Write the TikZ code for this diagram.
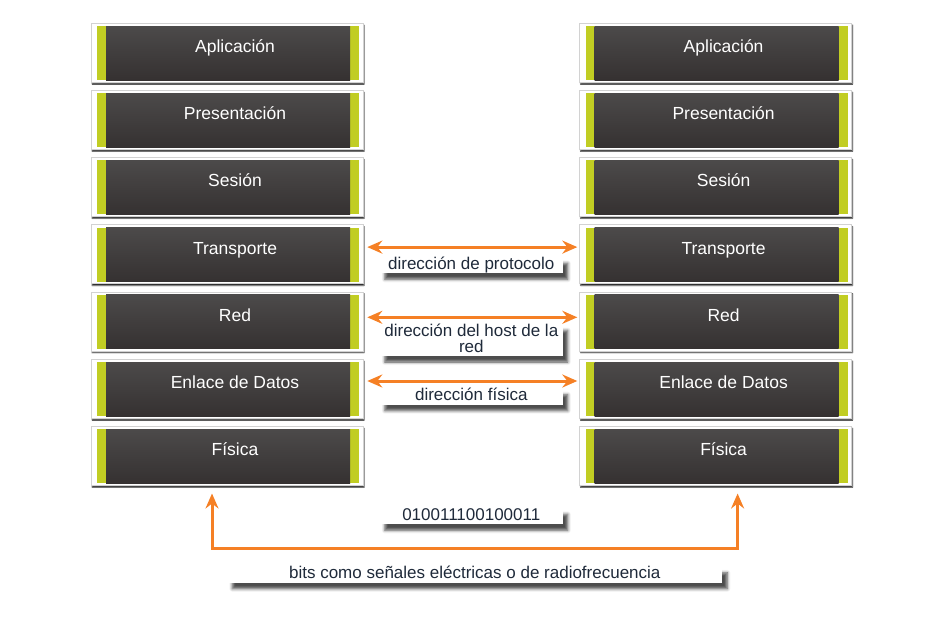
\documentclass[tikz,border=0pt]{standalone}
\usepackage{fontspec}
\setmainfont{Liberation Sans}
\usetikzlibrary{positioning,arrows.meta,shadows.blur,calc,backgrounds}
\definecolor{layergreen}{HTML}{C1CD23}
\definecolor{layertop}{HTML}{4C4A4A}
\definecolor{layerbot}{HTML}{353131}
\definecolor{bandgreen}{HTML}{CDD468}
\definecolor{linkorange}{HTML}{F58025}
\definecolor{labelink}{HTML}{1F2A3A}
\tikzset{
  layer/.style={fill=white, draw=gray!35, line width=0.6pt, minimum width=272pt, minimum height=59pt,
    inner sep=0pt, text=white, font=\fontsize{17.5}{20}\selectfont, text height=12pt, text depth=12pt,
    blur shadow={shadow xshift=1pt, shadow yshift=-2pt, shadow blur radius=1pt, shadow opacity=85},
    path picture={
      \fill[layergreen] ([xshift=6pt,yshift=-3pt]path picture bounding box.north west)
        rectangle ([xshift=-4pt,yshift=2pt]path picture bounding box.south east);
      \shade[top color=layertop, bottom color=layerbot] ([xshift=15pt,yshift=-3pt]path picture bounding box.north west)
        rectangle ([xshift=-13pt,yshift=2pt]path picture bounding box.south east);
    }},
  tag/.style={fill=white, text=labelink, font=\fontsize{17}{15.5}\selectfont, inner xsep=0pt, inner ysep=0pt,
    text height=12pt, text depth=4pt, align=center,
    blur shadow={shadow xshift=5pt, shadow yshift=-6pt, shadow blur radius=3pt, shadow opacity=70}},
  link/.style={linkorange, line width=3pt, {Stealth[length=15pt,width=13pt,inset=5pt]}-{Stealth[length=15pt,width=13pt,inset=5pt]}},
}
\begin{document}
\begin{tikzpicture}[x=1pt,y=-1pt]
  \useasboundingbox (0,0) rectangle (941,616);
  % the two stacks of layers
  \foreach \layer [count=\i] in {Aplicación,Presentación,Sesión,Transporte,Red,Enlace de Datos,Física} {
    \node[layer] (L\i) at (227,{52.5+67.2*(\i-1)}) {\hspace*{16pt}\layer};
    \node[layer, right=216pt of L\i] (R\i) {\hspace*{16pt}\layer};
  }
  \begin{scope}[on background layer]
    \fill[bandgreen] ([xshift=19pt]L1.north west) rectangle ([xshift=-18pt]L7.south east);
    \fill[bandgreen] ([xshift=19pt]R1.north west) rectangle ([xshift=-18pt]R7.south east);
  \end{scope}
  % addresses between peer layers
  \draw[link] ([xshift=4pt,yshift=7pt]L4.east) -- ([xshift=-2pt,yshift=7pt]R4.west);
  \draw[link] ([xshift=4pt,yshift=4pt]L5.east) -- ([xshift=-2pt,yshift=4pt]R5.west);
  \draw[link] ([xshift=4pt,yshift=7.5pt]L6.east) -- ([xshift=-2pt,yshift=7.5pt]R6.west);
  \node[tag, minimum width=183pt, anchor=north] (protolbl) at ($(L4.east)!0.5!(R4.west)+(0,3)$) {dirección de protocolo};
  \node[tag, minimum width=183pt, anchor=north, text height=27.5pt] (hostlbl) at ($(L5.east)!0.5!(R5.west)+(0,3)$) {dirección del host de la\\red};
  \node[tag, minimum width=183pt, anchor=north] (physlbl) at ($(L6.east)!0.5!(R6.west)+(0,0)$) {dirección física};
  % the medium
  \coordinate (bus) at ($(L7.south)!0.5!(R7.south)+(0,62.8)$);
  \draw[link] ([xshift=-15pt,yshift=-8pt]L7.south) |- (bus) -| ([xshift=22pt,yshift=-8pt]R7.south);
  \node[tag, minimum width=183pt] (bitsval) at ($(bus)+(0,-32)$) {010011100100011};
  \node[tag, minimum width=495pt] (mediumlbl) at ($(bus)+(3.5,26.5)$) {bits como señales eléctricas o de radiofrecuencia};
\end{tikzpicture}
\end{document}
